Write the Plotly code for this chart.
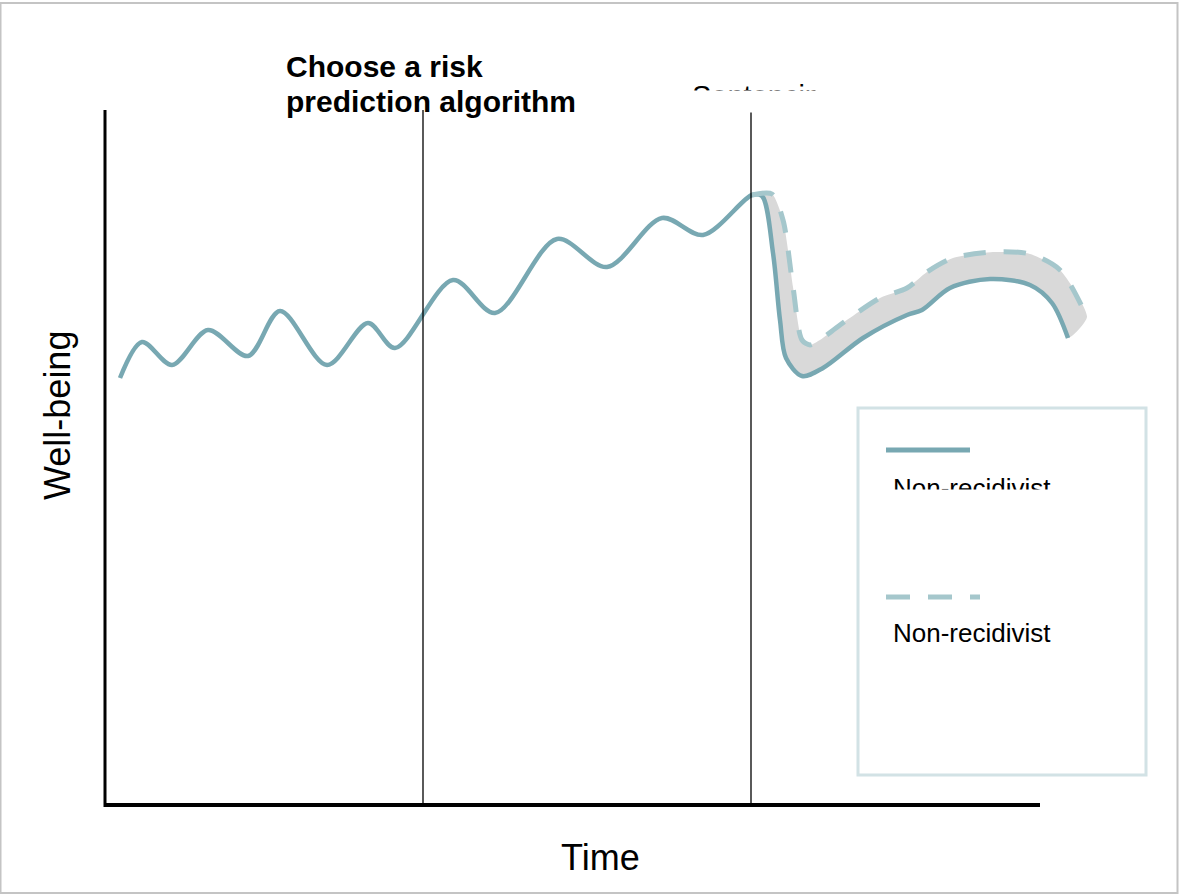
import plotly.graph_objects as go

W, H = 1179, 895
# data units: time measured from the y-axis, well-being measured up from the x-axis
X0_PX, Y0_PX = 105, 805

# trajectory before sentencing
time_before = [15, 37, 67, 103, 143, 175, 222, 263, 290, 348, 390, 452, 502, 557, 598, 647]
wellbeing_before = [427, 463, 440, 475, 449, 494, 440, 482, 457, 525, 492, 566, 538, 587, 570, 610]

# after sentencing, solid scenario
time_after_solid = [647, 657, 668, 675, 681, 697, 718, 758, 802, 817, 845, 885, 925, 947, 963]
wellbeing_after_solid = [610, 609, 552, 485, 447, 429, 437, 467, 490, 495, 517, 526, 520, 502, 467]

# after sentencing, dashed scenario
time_after_dashed = [647, 667, 678, 688, 697, 705, 715, 735, 775, 802, 822, 848, 888, 925, 955, 982]
wellbeing_after_dashed = [610, 611, 585, 518, 465, 460, 465, 480, 507, 517, 533, 547, 553, 551, 535, 488]

event_times = [318, 646]
axis_time_end = 935
axis_top = 695

legend_labels = ["Non-recidivist", "Non-recidivist"]
title_lines = ["Choose a risk", "prediction algorithm"]
event_text = "Sentencing"
x_title = "Time"
y_title = "Well-being"

SOLID = "#78a8b2"
DASHED = "#a5c7cc"
FILLC = "#d9d9d9"
FONT = "Liberation Sans, Arial, sans-serif"


def px(x):
    return x / W


def py(y):
    return 1 - y / H


fig = go.Figure()

# shaded band between the two post-sentencing scenarios
fig.add_trace(go.Scatter(
    x=time_after_solid + time_after_dashed[::-1],
    y=wellbeing_after_solid + wellbeing_after_dashed[::-1],
    fill="toself", fillcolor=FILLC, mode="lines",
    line=dict(width=0, color=FILLC, shape="spline", smoothing=0.6),
    hoverinfo="skip", showlegend=False))

fig.add_trace(go.Scatter(
    x=time_before[:-1] + time_after_solid,
    y=wellbeing_before[:-1] + wellbeing_after_solid,
    mode="lines", line=dict(color=SOLID, width=4.5, shape="spline", smoothing=0.9),
    showlegend=False))

fig.add_trace(go.Scatter(
    x=time_after_dashed, y=wellbeing_after_dashed,
    mode="lines", line=dict(color=DASHED, width=5, dash="22px,18px", shape="spline", smoothing=0.8),
    showlegend=False))

shapes = []
# axes
shapes.append(dict(type="line", xref="x", yref="y", x0=0, x1=0, y0=-2, y1=axis_top,
                   line=dict(color="black", width=3), layer="above"))
shapes.append(dict(type="line", xref="x", yref="y", x0=-1, x1=axis_time_end, y0=0, y1=0,
                   line=dict(color="black", width=4), layer="above"))
for t in event_times:
    shapes.append(dict(type="line", xref="x", yref="y", x0=t, x1=t, y0=0, y1=axis_top,
                       line=dict(color="black", width=1.3), layer="above"))

# legend box
shapes.append(dict(type="rect", xref="paper", yref="paper",
                   x0=px(858), x1=px(1146), y0=py(775), y1=py(408),
                   line=dict(color="#d2e2e5", width=3), fillcolor="white", layer="above"))
shapes.append(dict(type="line", xref="paper", yref="paper",
                   x0=px(886), x1=px(970), y0=py(450), y1=py(450),
                   line=dict(color=SOLID, width=5), layer="above"))
shapes.append(dict(type="line", xref="paper", yref="paper",
                   x0=px(886), x1=px(980), y0=py(597), y1=py(597),
                   line=dict(color=DASHED, width=5, dash="24px,18px"), layer="above"))
# outer frame
shapes.append(dict(type="rect", xref="paper", yref="paper", x0=px(0.5), x1=px(1177.5), y0=py(893), y1=py(3),
                   line=dict(color="#c4c4c4", width=2), layer="above"))

annotations = [
    dict(text="<b>" + title_lines[0] + "</b>", xref="paper", yref="paper", x=px(284), y=py(67),
         xanchor="left", yanchor="middle", align="left", showarrow=False,
         font=dict(family=FONT, size=30, color="black")),
    dict(text="<b>" + title_lines[1] + "</b>", xref="paper", yref="paper", x=px(284), y=py(101),
         xanchor="left", yanchor="middle", align="left", showarrow=False,
         font=dict(family=FONT, size=30, color="black")),
    dict(text=event_text, xref="paper", yref="paper", x=px(690), y=py(78),
         xanchor="left", yanchor="top", align="left", showarrow=False,
         font=dict(family=FONT, size=29, color="black")),
    # clipping mask for the event label
    dict(text=" ", xref="paper", yref="paper", x=px(680), y=py(90), xanchor="left", yanchor="top",
         width=200, height=19, bgcolor="white", showarrow=False),
    dict(text=" ", xref="paper", yref="paper", x=px(815), y=py(70), xanchor="left", yanchor="top",
         width=90, height=60, bgcolor="white", showarrow=False),
    dict(text=legend_labels[0], xref="paper", yref="paper", x=px(891), y=py(488),
         xanchor="left", yanchor="middle", showarrow=False,
         font=dict(family=FONT, size=26, color="black")),
    dict(text=" ", xref="paper", yref="paper", x=px(880), y=py(489), xanchor="left", yanchor="top",
         width=190, height=20, bgcolor="white", showarrow=False),
    dict(text=legend_labels[1], xref="paper", yref="paper", x=px(891), y=py(633),
         xanchor="left", yanchor="middle", showarrow=False,
         font=dict(family=FONT, size=26, color="black")),
    dict(text=x_title, xref="paper", yref="paper", x=px(600), y=py(857),
         xanchor="center", yanchor="middle", showarrow=False,
         font=dict(family=FONT, size=36, color="black")),
    dict(text=y_title, xref="paper", yref="paper", x=px(58), y=py(416),
         xanchor="center", yanchor="middle", showarrow=False, textangle=-90,
         font=dict(family=FONT, size=36, color="black")),
]

fig.update_layout(
    width=W, height=H,
    margin=dict(l=0, r=0, t=0, b=0),
    paper_bgcolor="white", plot_bgcolor="white",
    xaxis=dict(range=[-X0_PX, W - X0_PX], visible=False, fixedrange=True),
    yaxis=dict(range=[Y0_PX - H, Y0_PX], visible=False, fixedrange=True),
    shapes=shapes, annotations=annotations, showlegend=False,
)

fig.write_html("out.html", config={"displayModeBar": False},
               post_script="document.body.style.margin='0';document.body.style.overflow='hidden';")
